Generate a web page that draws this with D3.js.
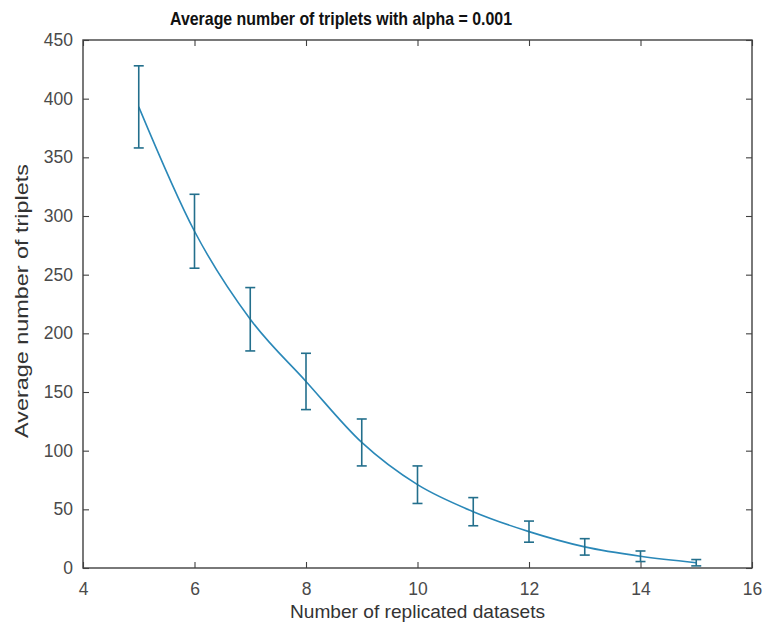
<!DOCTYPE html>
<html>
<head>
<meta charset="utf-8">
<script src="https://cdn.jsdelivr.net/npm/d3@7"></script>
<style>
  html, body { margin: 0; padding: 0; background: #fff; }
  svg { display: block; }
  text { font-family: "Liberation Sans", Arial, Helvetica, sans-serif; }
</style>
</head>
<body>
<svg id="chart" width="763" height="635"></svg>
<script>
// ---- data ----
const replicates = [5, 6, 7, 8, 9, 10, 11, 12, 13, 14, 15];
const avgTriplets = [393, 287, 212, 159, 107, 71, 48, 31, 18, 10, 4.5];
const errHalf = [35, 31.5, 27, 24, 20, 16, 12, 9, 7, 4.5, 2.7];
const xTicks = [4, 6, 8, 10, 12, 14, 16];
const yTicks = [0, 50, 100, 150, 200, 250, 300, 350, 400, 450];
const titleText = "Average number of triplets with alpha = 0.001";
const xLabelText = "Number of replicated datasets";
const yLabelText = "Average number of triplets";

// ---- layout ----
const svg = d3.select("#chart");
const m = { left: 83, top: 40, right: 752, bottom: 568 };
const x = d3.scaleLinear().domain([4, 16]).range([m.left, m.right]);
const y = d3.scaleLinear().domain([0, 450]).range([m.bottom, m.top]);
const axisColor = "#404040";
const lineColor = "#2a88b8";
const errColor = "#236f8c";
const tickLen = 6;

// box
svg.append("rect")
  .attr("x", m.left).attr("y", m.top)
  .attr("width", m.right - m.left).attr("height", m.bottom - m.top)
  .attr("fill", "none").attr("stroke", axisColor).attr("stroke-width", 1.4);

// axes (ticks inward)
const xAxisB = svg.append("g").attr("transform", `translate(0,${m.bottom})`)
  .call(d3.axisBottom(x).tickValues(xTicks).tickSize(-tickLen).tickPadding(15).tickFormat(d3.format("d")));
const xAxisT = svg.append("g").attr("transform", `translate(0,${m.top})`)
  .call(d3.axisTop(x).tickValues(xTicks).tickSize(-tickLen).tickFormat(""));
const yAxisL = svg.append("g").attr("transform", `translate(${m.left},0)`)
  .call(d3.axisLeft(y).tickValues(yTicks).tickSize(-tickLen).tickPadding(10).tickFormat(d3.format("d")));
const yAxisR = svg.append("g").attr("transform", `translate(${m.right},0)`)
  .call(d3.axisRight(y).tickValues(yTicks).tickSize(-tickLen).tickFormat(""));

[xAxisB, xAxisT, yAxisL, yAxisR].forEach(g => {
  g.select(".domain").remove();
  g.selectAll(".tick line").attr("stroke", axisColor).attr("stroke-width", 1.1);
  g.selectAll(".tick text").attr("fill", "#4a4a4a").attr("font-size", 17.5)
    .attr("font-family", "'Liberation Sans', Arial, sans-serif");
});

// line
const line = d3.line()
  .x((d, i) => x(replicates[i]))
  .y(d => y(d))
  .curve(d3.curveMonotoneX);
svg.append("path")
  .datum(avgTriplets)
  .attr("d", line)
  .attr("fill", "none")
  .attr("stroke", lineColor)
  .attr("stroke-width", 1.6);

// error bars
const capW = 5;
const eb = svg.append("g").attr("stroke", errColor).attr("stroke-width", 1.6).attr("fill", "none");
replicates.forEach((r, i) => {
  const cx = x(r);
  const yt = y(avgTriplets[i] + errHalf[i]);
  const yb = y(Math.max(0, avgTriplets[i] - errHalf[i]));
  eb.append("line").attr("x1", cx).attr("x2", cx).attr("y1", yt).attr("y2", yb);
  eb.append("line").attr("x1", cx - capW).attr("x2", cx + capW).attr("y1", yt).attr("y2", yt);
  eb.append("line").attr("x1", cx - capW).attr("x2", cx + capW).attr("y1", yb).attr("y2", yb);
});

// title & labels
const cxMid = (m.left + m.right) / 2;
svg.append("text")
  .attr("x", 341).attr("y", 25)
  .attr("text-anchor", "middle")
  .attr("font-size", 18.5).attr("font-weight", "bold").attr("fill", "#111")
  .attr("textLength", 342).attr("lengthAdjust", "spacingAndGlyphs")
  .text(titleText);
svg.append("text")
  .attr("x", cxMid).attr("y", 618)
  .attr("text-anchor", "middle")
  .attr("font-size", 19).attr("fill", "#333")
  .attr("textLength", 255).attr("lengthAdjust", "spacingAndGlyphs")
  .text(xLabelText);
svg.append("text")
  .attr("transform", `translate(28,301) rotate(-90)`)
  .attr("text-anchor", "middle")
  .attr("font-size", 19).attr("fill", "#333")
  .attr("textLength", 274).attr("lengthAdjust", "spacingAndGlyphs")
  .text(yLabelText);
</script>
</body>
</html>
